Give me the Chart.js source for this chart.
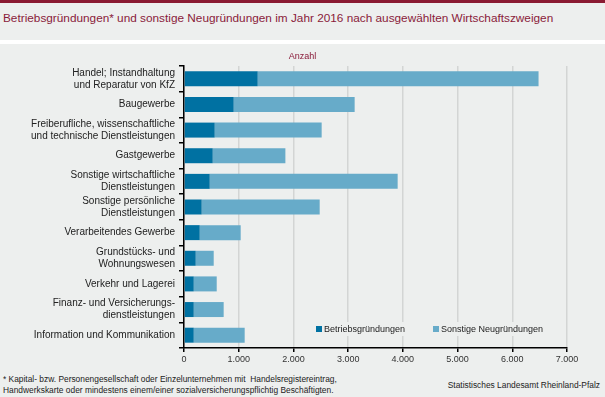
<!DOCTYPE html>
<html>
<head>
<meta charset="utf-8">
<script src="https://cdn.jsdelivr.net/npm/chart.js@4"></script>
<style>
  body { margin: 0; width: 605px; height: 397px; background: #edefee; font-family: "Liberation Sans", Arial, sans-serif; position: relative; overflow: hidden; }
  #topbar { position: absolute; left: 0; top: 0; width: 605px; height: 3px; background: #8a1b32; }
  #title { position: absolute; left: 3px; top: 11px; font-size: 11.8px; color: #8a1b3a; white-space: nowrap; }
  #sep { position: absolute; left: 0; top: 40px; width: 605px; height: 4px; background: #ffffff; }
  #wrap { position: absolute; left: 0; top: 44px; width: 605px; height: 330px; }
  .foot { position: absolute; font-size: 8.4px; color: #222; white-space: nowrap; }
</style>
</head>
<body>
<div id="topbar"></div>
<div id="title">Betriebsgründungen* und sonstige Neugründungen im Jahr 2016 nach ausgewählten Wirtschaftszweigen</div>
<div id="sep"></div>
<div id="wrap"><canvas id="myChart" width="605" height="330"></canvas></div>
<div class="foot" style="left:3px; top:374px;">* Kapital- bzw. Personengesellschaft oder Einzelunternehmen mit&nbsp; Handelsregistereintrag,</div>
<div class="foot" style="left:3px; top:385px;">Handwerkskarte oder mindestens einem/einer sozialversicherungspflichtig Beschäftigten.</div>
<div class="foot" style="right:5px; top:380px;">Statistisches Landesamt Rheinland-Pfalz</div>
<script>
const ctx = document.getElementById("myChart");

const categories = [
  ["Handel; Instandhaltung", "und Reparatur von KfZ"],
  "Baugewerbe",
  ["Freiberufliche, wissenschaftliche", "und technische Dienstleistungen"],
  "Gastgewerbe",
  ["Sonstige wirtschaftliche", "Dienstleistungen"],
  ["Sonstige persönliche", "Dienstleistungen"],
  "Verarbeitendes Gewerbe",
  ["Grundstücks- und", "Wohnungswesen"],
  "Verkehr und Lagerei",
  ["Finanz- und Versicherungs-", "dienstleistungen"],
  "Information und Kommunikation",
];

const betriebsgruendungen = [1347, 908, 561, 525, 470, 323, 287, 214, 178, 178, 178];
const sonstigeNeugruendungen = [5133, 2211, 1955, 1328, 3435, 2157, 749, 329, 420, 547, 931];

const seriesNames = ["Betriebsgründungen", "Sonstige Neugründungen"];
const seriesColors = ["#0071a2", "#67abc9"];

const fontName = "'Liberation Sans', Arial, sans-serif";

// legend drawn inside the plot, lower right
const innerLegend = {
  id: "innerLegend",
  afterDraw(chart) {
    const c = chart.ctx;
    const area = chart.chartArea;
    const y = area.bottom - 19;
    c.save();
    c.fillStyle = "#edefee";
    c.fillRect(area.left + 116, y - 7, 256, 14);
    c.font = "9px " + fontName;
    c.textBaseline = "middle";
    let x = area.left + 132;
    chart.data.datasets.forEach((ds, i) => {
      c.fillStyle = ds.backgroundColor;
      c.fillRect(x, y - 3, 6, 6);
      c.fillStyle = "#222";
      c.fillText(ds.label, x + 8, y + 0.5);
      x += 117;
    });
    c.fillStyle = "#8a1b3a";
    c.textAlign = "center";
    c.font = "9px " + fontName;
    c.fillText("Anzahl", chart.width / 2, 13);
    c.restore();
  },
};

new Chart(ctx, {
  type: "bar",
  data: {
    labels: categories,
    datasets: [
      { label: seriesNames[0], data: betriebsgruendungen, backgroundColor: seriesColors[0] },
      { label: seriesNames[1], data: sonstigeNeugruendungen, backgroundColor: seriesColors[1] },
    ],
  },
  options: {
    indexAxis: "y",
    responsive: false,
    animation: false,
    devicePixelRatio: 1,
    layout: { padding: { top: 22, right: 38, left: 0, bottom: 0 } },
    datasets: { bar: { categoryPercentage: 1, barPercentage: 0.585 } },
    plugins: {
      legend: { display: false },
      tooltip: { enabled: false },
    },
    scales: {
      x: {
        stacked: true,
        min: 0,
        max: 7000,
        afterFit: (scale) => { scale.height = 26; },
        ticks: {
          stepSize: 1000,
          color: "#333",
          padding: 2,
          font: { family: fontName, size: 9 },
          callback: (v) => v.toLocaleString("de-DE"),
        },
        grid: { color: "#d3d5d4", lineWidth: 1.5, tickColor: "#000", tickLength: 4 },
        border: { color: "#000", width: 1.5 },
      },
      y: {
        stacked: true,
        afterFit: (scale) => { scale.width = 184; },
        ticks: {
          autoSkip: false,
          color: "#222",
          padding: 4,
          font: { family: fontName, size: 10, lineHeight: 1.2 },
        },
        grid: { drawOnChartArea: false, offset: true, tickColor: "#000", tickLength: 5, lineWidth: 1.5 },
        border: { color: "#000", width: 1.5 },
      },
    },
  },
  plugins: [innerLegend],
});
</script>
</body>
</html>
